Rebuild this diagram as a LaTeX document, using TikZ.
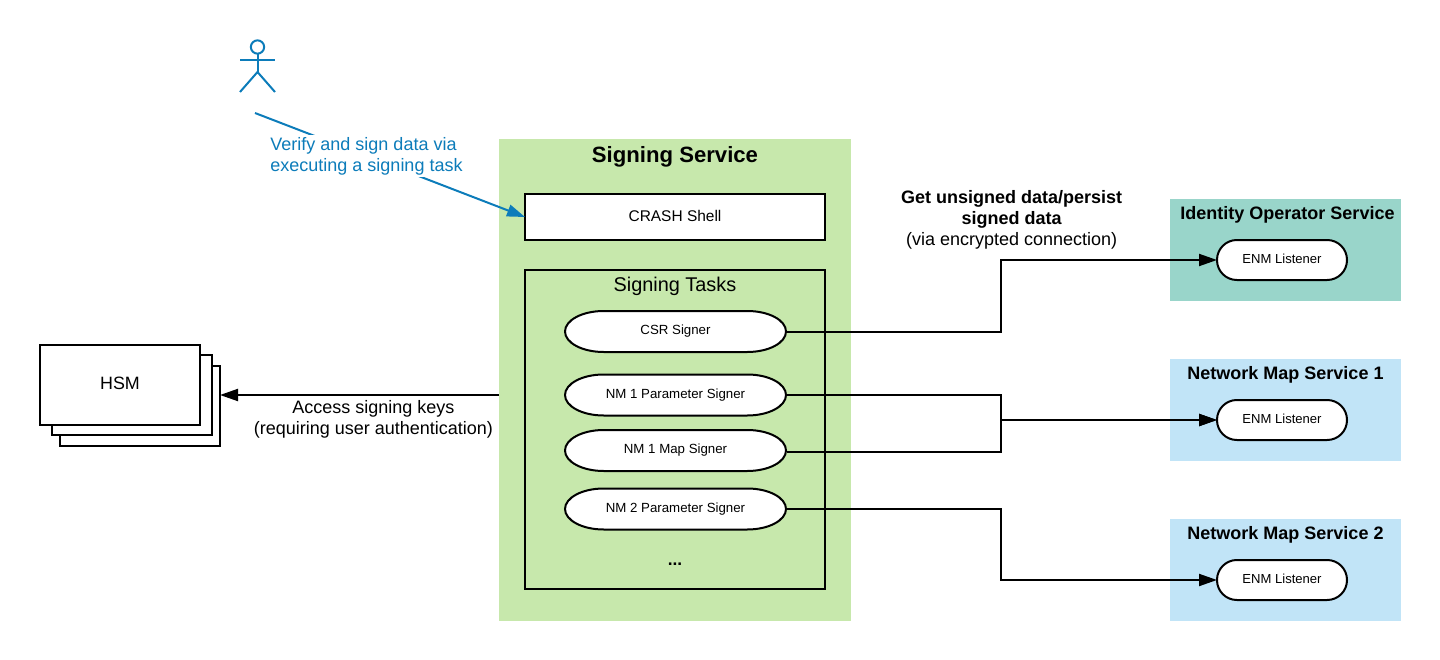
\documentclass[tikz,border=0pt]{standalone}
\usepackage{fontspec}
\setmainfont{Liberation Sans}
\usetikzlibrary{arrows.meta}
\usetikzlibrary{positioning}
\definecolor{svcgreen}{HTML}{C7E8AC}
\definecolor{svcteal}{HTML}{99D5CA}
\definecolor{svcblue}{HTML}{C1E4F7}
\definecolor{userblue}{HTML}{0C7CBA}
\tikzset{
  >={Triangle[length=13.5pt,width=9pt]},
  panel/.style = {minimum width=#1, inner sep=0pt, outer sep=0pt},
  box/.style = {draw, line width=1.5pt, inner sep=0pt, outer sep=0pt},
  signer/.style = {
    minimum width=167.25pt, minimum height=32.25pt, inner sep=0pt, outer sep=0pt,
    font=\fontsize{9.95}{12}\selectfont,
    path picture={
      \draw [line width=1.5pt, fill=white] ([xshift=.75pt]path picture bounding box.west)
        arc [start angle=180, end angle=90, x radius=29pt, y radius=15.375pt] -- ++(107.75pt,0pt)
        arc [start angle=90, end angle=-90, x radius=29pt, y radius=15.375pt] -- ++(-107.75pt,0pt)
        arc [start angle=270, end angle=180, x radius=29pt, y radius=15.375pt] -- cycle;
    },
  },
  listener/.style = {
    draw, fill=white, line width=1.5pt, rounded corners=14.9pt, inner sep=0pt, outer sep=0pt,
    minimum width=97.5pt, minimum height=30pt, text depth=2pt, font=\fontsize{9.8}{12}\selectfont,
  },
  service/.style = {panel=173.25pt, minimum height=76.5pt},
  boxtitle/.style = {font=\fontsize{13.5}{16}\bfseries\selectfont},
  note/.style = {align=center, font=\fontsize{13.5}{15.75}\selectfont},
  conn/.style = {->, line width=1.5pt},
  stickman/.style = {userblue, line width=1.5pt},
}

\begin{document}
\begin{tikzpicture}[x=.75pt, y=-.75pt]
    \useasboundingbox (0,0) rectangle (1440,660);

    % signing service
    \node [panel=264pt, minimum height=361.5pt, fill=svcgreen] (signing) at (675,380) {};
    \node [font=\fontsize{16.6}{20}\bfseries\selectfont] (signingtitle) at (675,157) {Signing Service};
    \node [box, fill=white, minimum width=225pt, minimum height=34.5pt, text depth=1.5pt, font=\fontsize{11.6}{13}\selectfont] (crash) at (675,217) {CRASH Shell};
    \node [box, minimum width=225pt, minimum height=239.25pt] (tasks) at (675,429.5) {};
    \node [font=\fontsize{14.9}{18}\selectfont] (taskstitle) at (675,286) {Signing Tasks};
    \node [signer] (csr) at (675.5,331.5) {CSR Signer};
    \node [signer, below=15.375pt of csr] (nm1param) {NM 1 Parameter Signer};
    \node [signer, below=9.375pt of nm1param] (nm1map) {NM 1 Map Signer};
    \node [signer, below=11.625pt of nm1map] (nm2param) {NM 2 Parameter Signer};
    \node [font=\fontsize{13}{15}\bfseries\selectfont] (more) at (675,564) {...};

    % hsm stack
    \node [box, fill=white, minimum width=120pt, minimum height=60pt] (hsm3) at (140,405.5) {};
    \node [box, fill=white, minimum width=120pt, minimum height=60pt] (hsm2) at (132,395) {};
    \node [box, fill=white, minimum width=120pt, minimum height=60pt, text depth=3pt, font=\fontsize{13.4}{15}\selectfont] (hsm) at (120,385) {HSM};

    % services on the right
    \node [service, fill=svcteal] (identity) at (1285.5,250) {};
    \node [boxtitle] (identitytitle) at (1287.5,215) {Identity Operator Service};
    \node [listener] (enm0) at (1282,260) {ENM Listener};
    \node [service, fill=svcblue] (netmap1) at (1285.5,410) {};
    \node [boxtitle] (netmap1title) at (1285.5,375) {Network Map Service 1};
    \node [listener] (enm1) at (1282,420) {ENM Listener};
    \node [service, fill=svcblue] (netmap2) at (1285.5,570) {};
    \node [boxtitle] (netmap2title) at (1285.5,535) {Network Map Service 2};
    \node [listener] (enm2) at (1282,580) {ENM Listener};

    % user
    \draw [stickman] (257.5,47) circle [radius=5pt];
    \draw [stickman] (257.5,54) -- (257.5,72);
    \draw [stickman] (240,60) -- (275,60);
    \draw [stickman] (240,92) -- (257.5,72) -- (275,92);
    \coordinate (user) at (255,113);

    % connectors
    \coordinate (bus) at (1001,300);
    \draw [conn, userblue] (user) -- node [pos=.413, fill=white, align=left, inner sep=0pt, minimum height=32pt, text=userblue, font=\fontsize{13.5}{15.75}\selectfont] (usernote) {Verify and sign data via\\executing a signing task} (crash.west);
    \draw [conn] (signing.west |- nm1param) -- node [note, below=0pt, pos=.45] (keysnote) {Access signing keys\\(requiring user authentication)} (hsm3.east |- nm1param);
    \draw [conn] (csr.east) -- (csr.east -| bus) |- (enm0.west);
    \draw [conn] (nm1param.east) -- (nm1param.east -| bus) |- (enm1.west);
    \draw [conn] ([yshift=-1pt]nm1map.east) -- ([yshift=-1pt]nm1map.east -| bus) |- (enm1.west);
    \draw [conn] (nm2param.east) -- (nm2param.east -| bus) |- (enm2.west);

    \node [note] (datanote) at (1011.7,220) {\textbf{Get unsigned data/persist}\\\textbf{signed data}\\(via encrypted connection)};
  \end{tikzpicture}
\end{document}
